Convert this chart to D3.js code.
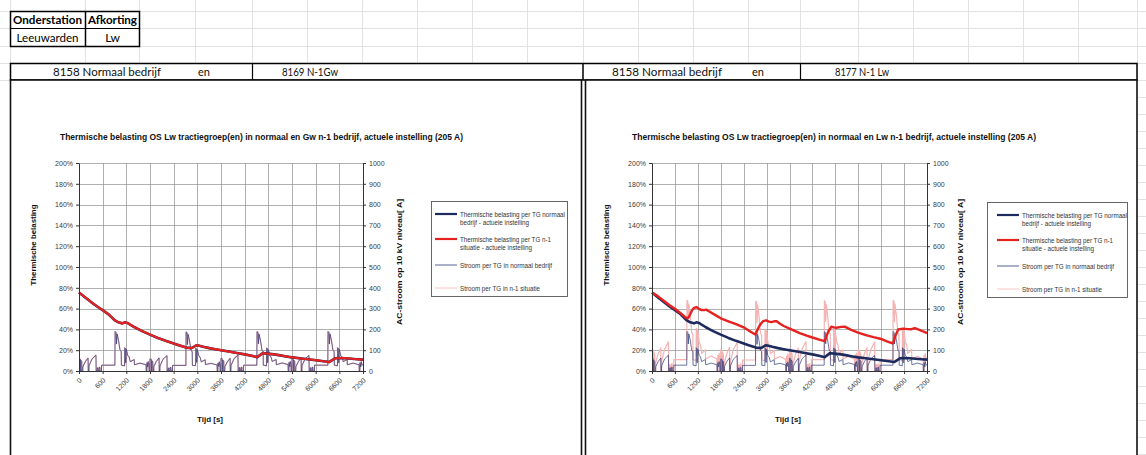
<!DOCTYPE html>
<html>
<head>
<meta charset="utf-8">
<script src="https://cdn.jsdelivr.net/npm/d3@7"></script>
<style>
  html, body { margin: 0; padding: 0; background: #fff; }
  svg { display: block; }
</style>
</head>
<body>
<svg id="sheet" width="1146" height="455"></svg>
<script>
// ---------- data ----------
const timeTicks = [0, 600, 1200, 1800, 2400, 3000, 3600, 4200, 4800, 5400, 6000, 6600, 7200];
const percentTicks = [0, 20, 40, 60, 80, 100, 120, 140, 160, 180, 200];
const ampTicks = [0, 100, 200, 300, 400, 500, 600, 700, 800, 900, 1000];

const legendLabels = [
  ["Thermische belasting per TG normaal", "bedrijf - actuele instelling"],
  ["Thermische belasting per TG n-1", "situatie - actuele instelling"],
  ["Stroom per TG in normaal bedrijf"],
  ["Stroom per TG in n-1 situatie"]
];

// thermal load per traction group, normal operation [% of setting]
const thermalNormal = [
  [0,75.5],[150,71],[300,66.5],[450,62.3],[600,58.5],[750,54.5],[900,49],[1000,46.8],[1100,45.8],
  [1160,46.8],[1230,46.2],[1300,44.5],[1400,42.3],[1500,40.3],[1600,38.4],[1800,35],[2000,31.8],
  [2200,29],[2400,26.5],[2550,24.6],[2720,22.5],[2850,22],[2920,23.4],[2975,24.8],[3050,24.3],
  [3150,23.3],[3300,22],[3450,21],[3600,20],[3800,18.7],[4000,17.3],[4200,16],[4400,14.5],
  [4520,13.3],[4600,15.5],[4660,17.2],[4750,16.8],[4830,16.5],[4950,16],[5100,15],[5250,14],
  [5400,13.1],[5600,12.2],[5800,11.3],[6000,10.4],[6200,9.4],[6340,8.6],[6420,10.5],[6490,12.2],
  [6600,12.5],[6750,12.3],[6900,11.8],[7050,11.3],[7200,10.9]
];
// Gw n-1: the Lw groups carry the same thermal load as in normal operation
const thermalN1Gw = thermalNormal;

// thermal load per traction group, Lw n-1 situation [%]
const thermalN1Lw = [
  [0,75.5],[150,72],[300,67.8],[450,63.5],[600,59.8],[750,55.5],[900,50.9],[960,51.4],[1000,54.5],
  [1040,57.8],[1090,60.5],[1160,61.5],[1230,59.8],[1300,58.5],[1370,58.6],[1420,59],[1500,57.2],
  [1650,54],[1800,50.7],[2000,47.8],[2200,45],[2400,42],[2550,38.5],[2705,35],[2725,36.5],
  [2760,39.5],[2830,44.5],[2906,47.9],[2993,48.7],[3060,47.5],[3124,47],[3200,47.8],[3255,48],
  [3343,45.6],[3450,43.3],[3605,40.7],[3867,36.5],[4050,34],[4200,32.2],[4400,30],[4520,28.8],
  [4560,32.5],[4610,37.5],[4697,42.7],[4760,42],[4828,41.6],[4950,42.4],[5046,42.7],[5200,39.8],
  [5396,37],[5600,34.5],[5800,32.5],[6000,30.8],[6150,28.5],[6300,26.5],[6330,28.5],[6380,34.5],
  [6445,39.9],[6576,40.7],[6700,40.3],[6794,40.2],[6881,41.3],[7000,39.6],[7100,38],[7200,36.5]
];

// AC current per traction group, normal operation [A]
const currentNormal = [
  [0,60],[30,58],[33,0],[42,0],[45,52],[70,45],[73,0],[95,0],[98,20],[160,45],[230,62],[235,0],[250,0],
  [253,25],[330,58],[430,76],[435,0],[460,0],[463,15],[480,15],[483,0],[510,0],[513,18],[530,18],[533,0],
  [570,0],[573,28],[910,28],[915,190],[940,185],[950,130],[965,178],[1000,150],[1040,100],[1070,95],
  [1075,28],[1155,25],[1160,112],[1175,108],[1180,40],[1195,40],[1200,105],[1235,75],[1270,68],[1300,45],
  [1400,55],[1405,30],[1550,38],[1700,30],[1705,0],[1720,0],[1723,40],[1745,20],[1755,45],[1775,30],
  [1778,0],[1795,0],
  [1800,58],[1830,57],[1833,0],[1842,0],[1845,50],[1870,44],[1873,0],[1895,0],[1898,22],[1960,46],
  [2030,63],[2035,0],[2050,0],[2053,24],[2130,57],[2230,74],[2235,0],[2260,0],[2263,14],[2280,14],
  [2283,0],[2310,0],[2313,17],[2330,17],[2333,0],[2370,0],[2373,27],[2710,27],[2715,188],[2740,184],
  [2750,128],[2765,176],[2800,148],[2840,99],[2870,94],[2875,27],[2955,26],[2960,110],[2975,106],
  [2980,42],[2995,42],[3000,104],[3035,74],[3070,66],[3100,44],[3200,54],[3205,31],[3350,37],[3500,29],
  [3505,0],[3520,0],[3523,38],[3545,22],[3555,44],[3575,29],[3578,0],[3595,0],
  [3600,61],[3630,59],[3633,0],[3642,0],[3645,53],[3670,46],[3673,0],[3695,0],[3698,21],[3760,44],
  [3830,61],[3835,0],[3850,0],[3853,26],[3930,59],[4030,77],[4035,0],[4060,0],[4063,16],[4080,16],
  [4083,0],[4110,0],[4113,18],[4130,18],[4133,0],[4170,0],[4173,28],[4508,28],[4513,189],[4538,186],
  [4548,131],[4563,177],[4598,149],[4638,101],[4668,96],[4673,28],[4753,25],[4758,111],[4773,107],
  [4778,41],[4793,41],[4798,104],[4833,76],[4868,67],[4898,46],[4998,55],[5003,30],[5150,39],[5300,31],
  [5305,0],[5320,0],[5323,41],[5345,21],[5355,46],[5375,31],[5378,0],[5395,0],
  [5400,60],[5430,58],[5433,0],[5442,0],[5445,52],[5470,45],[5473,0],[5495,0],[5498,20],[5560,45],
  [5630,62],[5635,0],[5650,0],[5653,25],[5730,58],[5830,75],[5835,0],[5860,0],[5863,15],[5880,15],
  [5883,0],[5910,0],[5913,18],[5930,18],[5933,0],[5970,0],[5973,28],[6308,28],[6313,190],[6338,185],
  [6348,130],[6363,178],[6398,150],[6438,100],[6468,95],[6473,28],[6553,25],[6558,112],[6573,108],
  [6578,40],[6593,40],[6598,105],[6633,75],[6668,68],[6698,45],[6798,55],[6803,30],[6950,38],[7100,30],
  [7105,0],[7120,0],[7123,40],[7145,20],[7155,45],[7175,30],[7200,28]
];
// Gw n-1: current per Lw traction group stays as in normal operation
const currentN1Gw = currentNormal;

// AC current per traction group, Lw n-1 situation [A]
const currentN1Lw = [
  [0,105],[30,100],[33,0],[42,0],[45,92],[70,80],[73,0],[95,0],[98,40],[160,82],[230,112],[235,0],[250,0],
  [253,48],[330,105],[430,140],[435,0],[460,0],[463,30],[480,30],[483,0],[510,0],[513,34],[530,34],[533,0],
  [570,0],[573,55],[910,55],[915,340],[940,332],[950,235],[965,320],[1000,270],[1040,185],[1070,175],
  [1075,55],[1155,50],[1160,205],[1175,198],[1180,78],[1195,78],[1200,195],[1235,140],[1270,125],[1300,85],
  [1400,102],[1405,58],[1550,72],[1700,58],[1705,0],[1720,0],[1723,75],[1745,40],[1755,85],[1775,56],
  [1778,0],[1795,0],
  [1800,102],[1830,99],[1833,0],[1842,0],[1845,90],[1870,79],[1873,0],[1895,0],[1898,42],[1960,84],
  [2030,114],[2035,0],[2050,0],[2053,46],[2130,103],[2230,137],[2235,0],[2260,0],[2263,28],[2280,28],
  [2283,0],[2310,0],[2313,32],[2330,32],[2333,0],[2370,0],[2373,53],[2710,53],[2715,336],[2740,330],
  [2750,232],[2765,317],[2800,266],[2840,182],[2870,172],[2875,53],[2955,50],[2960,202],[2975,195],
  [2980,80],[2995,80],[3000,192],[3035,137],[3070,122],[3100,83],[3200,100],[3205,57],[3350,70],[3500,56],
  [3505,0],[3520,0],[3523,72],[3545,41],[3555,82],[3575,54],[3578,0],[3595,0],
  [3600,106],[3630,101],[3633,0],[3642,0],[3645,94],[3670,81],[3673,0],[3695,0],[3698,39],[3760,80],
  [3830,110],[3835,0],[3850,0],[3853,49],[3930,106],[4030,142],[4035,0],[4060,0],[4063,31],[4080,31],
  [4083,0],[4110,0],[4113,34],[4130,34],[4133,0],[4170,0],[4173,55],[4508,55],[4513,338],[4538,331],
  [4548,238],[4563,318],[4598,268],[4638,186],[4668,176],[4673,55],[4753,51],[4758,204],[4773,197],
  [4778,79],[4793,79],[4798,193],[4833,141],[4868,124],[4898,84],[4998,101],[5003,58],[5150,71],[5300,57],
  [5305,0],[5320,0],[5323,76],[5345,39],[5355,86],[5375,57],[5378,0],[5395,0],
  [5400,104],[5430,100],[5433,0],[5442,0],[5445,91],[5470,80],[5473,0],[5495,0],[5498,40],[5560,83],
  [5630,112],[5635,0],[5650,0],[5653,47],[5730,104],[5830,139],[5835,0],[5860,0],[5863,30],[5880,30],
  [5883,0],[5910,0],[5913,33],[5930,33],[5933,0],[5970,0],[5973,55],[6308,55],[6313,340],[6338,333],
  [6348,236],[6363,321],[6398,269],[6438,184],[6468,174],[6473,55],[6553,50],[6558,206],[6573,198],
  [6578,78],[6593,78],[6598,196],[6633,139],[6668,126],[6698,85],[6798,103],[6803,58],[6950,71],[7100,57],
  [7105,0],[7120,0],[7123,74],[7145,40],[7155,84],[7175,55],[7200,52]
];

// ---------- sheet ----------
const svg = d3.select("#sheet");
const CELL_FONT = "Lato, 'Open Sans', 'Liberation Sans', sans-serif";
const CHART_FONT = "'Liberation Sans', Arial, sans-serif";

svg.append("rect").attr("width", 1146).attr("height", 455).attr("fill", "#fff");

// spreadsheet cell grid above the charts
const gridRows = [11, 28, 46, 63, 80];
const gridCols = [10, 85, 139, 195, 252, 307, 362, 417, 472, 527, 583, 638, 693, 748, 800, 858, 913, 968, 1023, 1078, 1137];
const cellGrid = svg.append("g").attr("stroke", "#e2e2e2").attr("stroke-width", 1).attr("shape-rendering", "crispEdges");
gridRows.forEach(y => cellGrid.append("line").attr("x1", 0).attr("x2", 1146).attr("y1", y).attr("y2", y));
gridCols.forEach(x => cellGrid.append("line").attr("x1", x).attr("x2", x).attr("y1", 0).attr("y2", 80));
for (let y = 97; y < 455; y += 17) {
  cellGrid.append("line").attr("x1", 1138).attr("x2", 1146).attr("y1", y).attr("y2", y);
}

// station table
const tbl = svg.append("g").attr("font-family", CELL_FONT).attr("font-size", 12).attr("fill", "#000");
tbl.append("rect").attr("x", 10.5).attr("y", 11.5).attr("width", 129).attr("height", 35)
  .attr("fill", "none").attr("stroke", "#000").attr("stroke-width", 1.5);
tbl.append("line").attr("x1", 85.5).attr("x2", 85.5).attr("y1", 11).attr("y2", 47).attr("stroke", "#000").attr("stroke-width", 1.5);
tbl.append("line").attr("x1", 10).attr("x2", 140).attr("y1", 28.5).attr("y2", 28.5).attr("stroke", "#000").attr("stroke-width", 1.2);
tbl.append("text").attr("x", 47.5).attr("y", 24).attr("text-anchor", "middle").attr("font-weight", "bold")
  .attr("textLength", 69).attr("lengthAdjust", "spacingAndGlyphs").text("Onderstation");
tbl.append("text").attr("x", 112.5).attr("y", 24).attr("text-anchor", "middle").attr("font-weight", "bold")
  .attr("textLength", 49).attr("lengthAdjust", "spacingAndGlyphs").text("Afkorting");
tbl.append("text").attr("x", 47.5).attr("y", 42).attr("text-anchor", "middle")
  .attr("textLength", 62).attr("lengthAdjust", "spacingAndGlyphs").text("Leeuwarden");
tbl.append("text").attr("x", 112.5).attr("y", 42).attr("text-anchor", "middle").text("Lw");

// header row above both charts
const hdr = svg.append("g").attr("font-family", CELL_FONT).attr("font-size", 12).attr("fill", "#111");
hdr.append("rect").attr("x", 10.5).attr("y", 63.5).attr("width", 1126.5).attr("height", 16.5)
  .attr("fill", "#fff").attr("stroke", "#000").attr("stroke-width", 1.5);
[252.5, 800.5].forEach(x => hdr.append("line").attr("x1", x).attr("x2", x).attr("y1", 63).attr("y2", 80)
  .attr("stroke", "#000").attr("stroke-width", 1.2));
hdr.append("line").attr("x1", 583).attr("x2", 583).attr("y1", 63).attr("y2", 80).attr("stroke", "#000").attr("stroke-width", 1.5);
const hdrTexts = [
  { x: 53, t: "8158 Normaal bedrijf", w: 108 },
  { x: 198, t: "en", w: 12 },
  { x: 282, t: "8169 N-1Gw", w: 56 },
  { x: 612, t: "8158 Normaal bedrijf", w: 110 },
  { x: 752, t: "en", w: 12 },
  { x: 835, t: "8177 N-1 Lw", w: 54 }
];
hdrTexts.forEach(d => hdr.append("text").attr("x", d.x).attr("y", 76)
  .attr("textLength", d.w).attr("lengthAdjust", "spacingAndGlyphs").text(d.t));

// ---------- charts ----------
const PLOT_TOP = 163, PLOT_BOTTOM = 371;
const COLORS = {
  thermalNormal: "#1d2a5e",
  thermalN1: "#e5221f",
  currentNormal: "#2e3a78",
  currentN1: "#f5b3b3"
};

function drawChart(cfg) {
  const g = svg.append("g");

  // chart frame
  g.append("rect").attr("x", cfg.frameX).attr("y", 80).attr("width", cfg.frameW).attr("height", 390)
    .attr("fill", "#fff").attr("stroke", "#111").attr("stroke-width", 1.6);

  const x = d3.scaleLinear().domain([0, 7200]).range([cfg.plotL, cfg.plotR]);
  const yP = d3.scaleLinear().domain([0, 200]).range([PLOT_BOTTOM, PLOT_TOP]);
  const yA = d3.scaleLinear().domain([0, 1000]).range([PLOT_BOTTOM, PLOT_TOP]);

  // title
  g.append("text").attr("x", cfg.titleX).attr("y", 140)
    .attr("font-family", CHART_FONT).attr("font-size", 9.5).attr("font-weight", "bold").attr("fill", "#111")
    .attr("textLength", cfg.titleLen).attr("lengthAdjust", "spacingAndGlyphs").text(cfg.title);

  // gridlines
  const grid = g.append("g").attr("stroke-width", 0.7).attr("shape-rendering", "crispEdges");
  grid.append("g").attr("transform", `translate(0,${PLOT_BOTTOM})`)
    .call(d3.axisBottom(x).tickValues(timeTicks).tickSize(-(PLOT_BOTTOM - PLOT_TOP)).tickFormat(""))
    .call(s => s.select(".domain").remove())
    .selectAll("line").attr("stroke", "#8f8f8f");
  grid.append("g").attr("transform", `translate(${cfg.plotL},0)`)
    .call(d3.axisLeft(yP).tickValues(percentTicks).tickSize(-(cfg.plotR - cfg.plotL)).tickFormat(""))
    .call(s => s.select(".domain").remove())
    .selectAll("line").attr("stroke", "#8f8f8f");

  // series
  const lineA = d3.line().x(d => x(d[0])).y(d => yA(d[1]));
  const lineP = d3.line().x(d => x(d[0])).y(d => yP(d[1]));
  const series = g.append("g").attr("fill", "none").attr("stroke-linejoin", "round");
  series.append("path").datum(cfg.currentN1).attr("d", lineA)
    .attr("stroke", COLORS.currentN1).attr("stroke-width", 1.2);
  series.append("path").datum(cfg.currentNormal).attr("d", lineA)
    .attr("stroke", COLORS.currentNormal).attr("stroke-width", 0.9).attr("stroke-opacity", 0.78);
  series.append("path").datum(cfg.thermalNormal).attr("d", lineP)
    .attr("stroke", COLORS.thermalNormal).attr("stroke-width", 2.6);
  series.append("path").datum(cfg.thermalN1).attr("d", lineP)
    .attr("stroke", COLORS.thermalN1).attr("stroke-width", cfg.n1Width);

  // axes
  const styleAxis = s => {
    s.attr("font-family", CHART_FONT).attr("font-size", 7);
    s.select(".domain").attr("stroke", "#333").attr("stroke-width", 1);
    s.selectAll(".tick line").attr("stroke", "#333");
    s.selectAll(".tick text").attr("fill", "#3a3a3a");
  };
  g.append("g").attr("transform", `translate(${cfg.plotL},0)`)
    .call(d3.axisLeft(yP).tickValues(percentTicks).tickSize(3).tickSizeOuter(0).tickPadding(3).tickFormat(d => d + "%"))
    .call(styleAxis);
  g.append("g").attr("transform", `translate(${cfg.plotR},0)`)
    .call(d3.axisRight(yA).tickValues(ampTicks).tickSize(3).tickSizeOuter(0).tickPadding(3).tickFormat(d3.format("d")))
    .call(styleAxis);
  const xAxis = g.append("g").attr("transform", `translate(0,${PLOT_BOTTOM})`)
    .call(d3.axisBottom(x).tickValues(timeTicks).tickSize(3).tickSizeOuter(0).tickFormat(d3.format("d")))
    .call(styleAxis);
  xAxis.selectAll(".tick text")
    .attr("x", 0).attr("y", 0).attr("dy", "0.35em")
    .attr("text-anchor", "end")
    .attr("transform", "translate(1,8) rotate(-45)");

  // axis titles
  const at = g.append("g").attr("font-family", CHART_FONT).attr("font-size", 8).attr("font-weight", "bold").attr("fill", "#111");
  at.append("text").attr("transform", `translate(${cfg.yTitleX},245) rotate(-90)`)
    .attr("text-anchor", "middle").attr("dy", "0.35em")
    .attr("textLength", 81).attr("lengthAdjust", "spacingAndGlyphs").text("Thermische belasting");
  at.append("text").attr("transform", `translate(${cfg.y2TitleX},262) rotate(-90)`)
    .attr("text-anchor", "middle").attr("dy", "0.35em")
    .attr("textLength", 126).attr("lengthAdjust", "spacingAndGlyphs").text("AC-stroom op 10 kV niveau[ A]");
  at.append("text").attr("x", cfg.tijdX).attr("y", 419).attr("text-anchor", "middle").attr("dy", "0.35em")
    .text("Tijd [s]");

  // legend
  const lg = g.append("g").attr("font-family", CHART_FONT).attr("font-size", 7).attr("fill", "#333");
  lg.append("rect").attr("x", cfg.legendX + 0.5).attr("y", cfg.legendY + 0.5)
    .attr("width", cfg.legendW).attr("height", 95)
    .attr("fill", "#fff").attr("stroke", "#555").attr("stroke-width", 0.9);
  const entries = [
    { dy: 13, color: COLORS.thermalNormal, w: 2.2, lens: [105, 69] },
    { dy: 38, color: COLORS.thermalN1, w: 2.2, lens: [91, 72] },
    { dy: 64, color: "#55618f", w: 1, lens: [92] },
    { dy: 87, color: "#f7c6c6", w: 1, lens: [80] }
  ];
  entries.forEach((e, i) => {
    const ly = cfg.legendY + e.dy;
    const lx = cfg.legendX + cfg.legendPad;
    lg.append("line").attr("x1", lx).attr("x2", lx + 22).attr("y1", ly).attr("y2", ly)
      .attr("stroke", e.color).attr("stroke-width", e.w);
    legendLabels[i].forEach((t, j) => {
      lg.append("text").attr("x", lx + 25).attr("y", ly + 2.5 + j * 8.5)
        .attr("textLength", e.lens[j]).attr("lengthAdjust", "spacingAndGlyphs").text(t);
    });
  });
}

drawChart({
  frameX: 10.5, frameW: 571,
  plotL: 79, plotR: 363,
  title: "Thermische belasting OS Lw tractiegroep(en) in normaal en Gw n-1 bedrijf, actuele instelling (205 A)",
  titleX: 60, titleLen: 403,
  yTitleX: 33, y2TitleX: 399, tijdX: 210,
  legendX: 431, legendY: 201, legendW: 136, legendPad: 4,
  thermalNormal: thermalNormal, thermalN1: thermalN1Gw, n1Width: 2.2,
  currentNormal: currentNormal, currentN1: currentN1Gw
});

drawChart({
  frameX: 585.5, frameW: 551.5,
  plotL: 652, plotR: 927,
  title: "Thermische belasting OS Lw tractiegroep(en) in normaal en Lw n-1 bedrijf, actuele instelling (205 A)",
  titleX: 632, titleLen: 404,
  yTitleX: 606, y2TitleX: 960, tijdX: 788,
  legendX: 987, legendY: 202, legendW: 140, legendPad: 10,
  thermalNormal: thermalNormal, thermalN1: thermalN1Lw, n1Width: 2.4,
  currentNormal: currentNormal, currentN1: currentN1Lw
});
</script>
</body>
</html>
